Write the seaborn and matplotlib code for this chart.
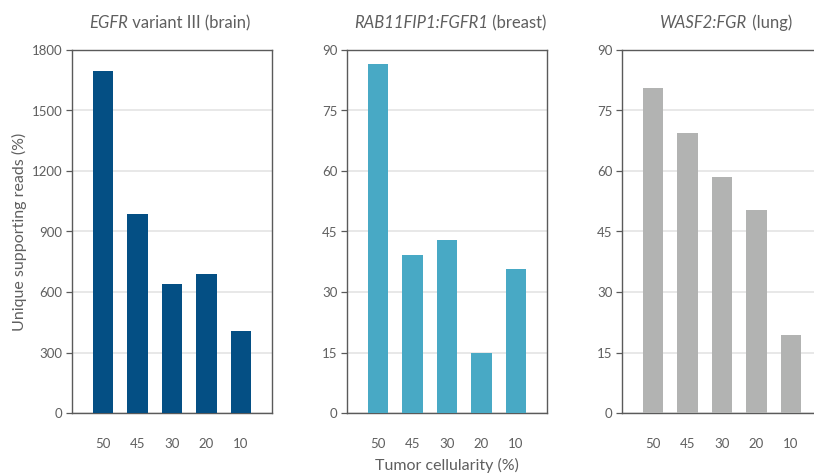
import numpy as np
import pandas as pd
import matplotlib
matplotlib.use("Agg")
import matplotlib.pyplot as plt
import seaborn as sns

# tumor cellularity categories (x axis)
cellularity = ["50", "45", "30", "20", "10"]

# unique supporting reads per panel
egfr_reads = [1695, 985, 640, 689, 407]
rab_reads = [86.5, 39.2, 42.9, 14.9, 35.7]
wasf_reads = [80.6, 69.4, 58.5, 50.3, 19.3]

titles = [("EGFR", " variant III (brain)"),
          ("RAB11FIP1:FGFR1", " (breast)"),
          ("WASF2:FGR", " (lung)")]
colors = ["#044f84", "#48a9c5", "#b2b3b2"]
ymax = [1800, 90, 90]
ysteps = [300, 15, 15]

sns.set_theme(style="white")
plt.rcParams['font.family'] = ['Lato', 'DejaVu Sans']

fig = plt.figure(figsize=(8.14, 4.73), dpi=100)
lefts = [72 / 814, 347 / 814, 622 / 814]
W = 200 / 814
bottom = 1 - 413 / 473
H = 363 / 473

txt = "#5f5f5f"
spine = "#5a5a5a"
axes = []
for i, vals in enumerate([egfr_reads, rab_reads, wasf_reads]):
    ax = fig.add_axes([lefts[i], bottom, W, H])
    df = pd.DataFrame({"cell": cellularity, "reads": vals})
    sns.barplot(data=df, x="cell", y="reads", order=cellularity,
                color=colors[i], saturation=1, width=0.6, linewidth=0,
                ax=ax, zorder=3)
    ax.set_xlim(-0.9, 4.9)
    ax.set_ylim(0, ymax[i])
    ax.set_yticks(np.arange(0, ymax[i] + 1, ysteps[i]))
    ax.yaxis.grid(True, color="#e2e2e2", linewidth=1.1, zorder=0)
    ax.set_axisbelow(True)
    for s in ax.spines.values():
        s.set_color(spine)
        s.set_linewidth(1.0)
        s.set_visible(True)
    ax.tick_params(axis="y", left=True, length=4, width=0.9, color=spine,
                   labelsize=9.5, labelcolor=txt, pad=3)
    ax.tick_params(axis="x", bottom=False, labelsize=9.5, labelcolor=txt, pad=12)
    ax.set_xlabel("")
    ax.set_ylabel("")
    axes.append(ax)

axes[0].set_ylabel("Unique supporting reads (%)", fontsize=11.5, color=txt, labelpad=3)
fig.text(447 / 814, 1 - 465 / 473, "Tumor cellularity (%)", ha="center", va="center",
         fontsize=11.5, color=txt)

# titles with italic gene name + normal suffix, centred over each panel
fig.canvas.draw()
renderer = fig.canvas.get_renderer()
centers = [170, 450, 726]
for (it, rest), cx in zip(titles, centers):
    t1 = fig.text(0, 1 - 23 / 473, it, style="italic", fontsize=12, color=txt, va="center")
    t2 = fig.text(0, 1 - 23 / 473, rest, fontsize=12, color=txt, va="center")
    w1 = t1.get_window_extent(renderer).width
    w2 = t2.get_window_extent(renderer).width
    x0 = cx - (w1 + w2) / 2
    t1.set_x(x0 / 814)
    t2.set_x((x0 + w1) / 814)

fig.savefig("out.png", dpi=100)
